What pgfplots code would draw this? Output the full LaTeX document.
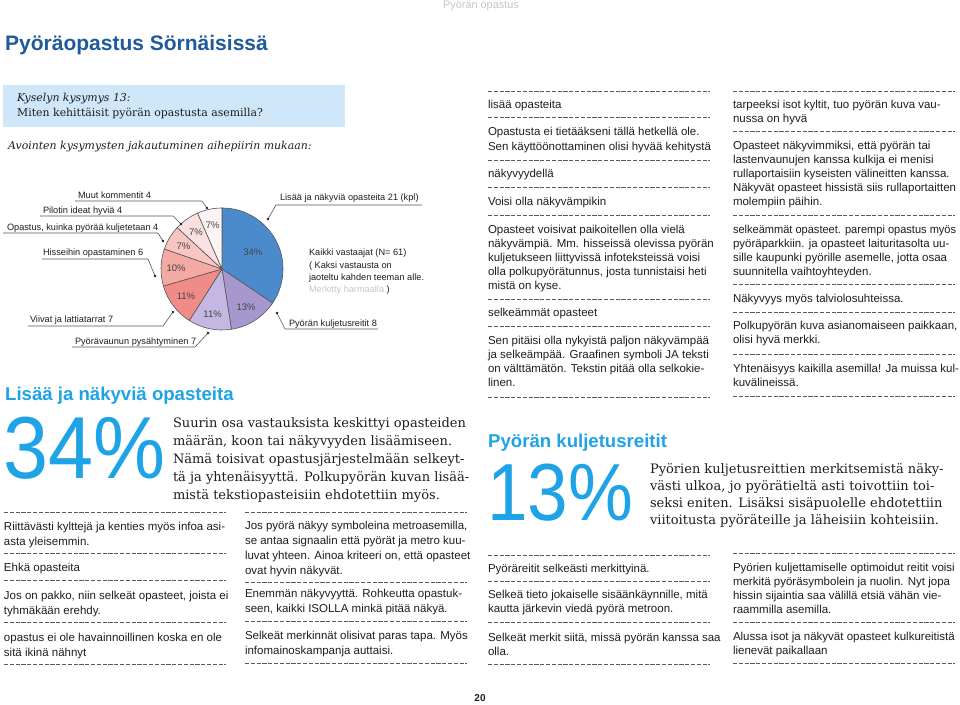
\documentclass[border=0pt]{standalone}
\usepackage{fontspec}
\setmainfont{Liberation Sans}
\newfontfamily\serif{DejaVu Serif}
\usepackage{pgfplots}
\pgfplotsset{compat=1.18}
\definecolor{txt}{HTML}{1E1E1E}
\definecolor{dashc}{HTML}{5A5A5A}
\definecolor{cyanh}{HTML}{1EA3E6}
\definecolor{titleb}{HTML}{1F5B9B}
\definecolor{boxb}{HTML}{CFE7F8}
\definecolor{hdr}{HTML}{C6C6C6}
\definecolor{edge}{HTML}{555555}
\definecolor{lab}{HTML}{444444}
\definecolor{s1}{HTML}{4B8BCB}
\definecolor{s2}{HTML}{A797CF}
\definecolor{s3}{HTML}{C4B8E2}
\definecolor{s4}{HTML}{F08C88}
\definecolor{s5}{HTML}{F4AAA4}
\definecolor{s6}{HTML}{F7C6C2}
\definecolor{s7}{HTML}{FAE0E0}
\definecolor{s8}{HTML}{FBF4F6}
\newcommand\bodyf{\fontsize{11.5}{14}\selectfont}
\newcommand\TB[3]{\node[anchor=base west,inner sep=0pt,outer sep=0pt,text=txt,font=\bodyf] at (#1,-#2) {#3};}
\newcommand\TD[2]{\draw[dashc,line width=0.7pt,dash pattern=on 4.2pt off 1.6pt] (#1,-#2) -- ++(222,0);}
\newcommand\TS[3]{\node[anchor=base west,inner sep=0pt,outer sep=0pt,text=txt,font={\serif\fontsize{13}{15}\selectfont}] at (#1,-#2) {#3};}
\newcommand\TP[3]{\node[anchor=base west,inner sep=0pt,outer sep=0pt,text=txt,font=\fontsize{9.2}{11}\selectfont] at (#1,-#2) {#3};}
\newcommand\slice[3]{%
  \filldraw[fill=#3,draw=edge,line width=0.6pt,line join=round] (axis cs:0,0) -- (axis cs:{61*cos(90-360/61*#1)},{61*sin(90-360/61*#1)}) arc[start angle={90-360/61*#1},end angle={90-360/61*#2},radius=61pt] -- cycle;}
\newcommand\plab[4]{\node[font=\fontsize{9.5}{10}\selectfont,text=lab,inner sep=0pt] at (axis cs:{#4*cos(90-180/61*(#1+#2))},{#4*sin(90-180/61*(#1+#2))}) {#3};}
\newcommand\lead[3]{%
  \draw[edge,line width=0.6pt] #1 -- #2 -- #3; \fill[txt] #3 circle[radius=1.3];}
\begin{document}
\begin{tikzpicture}[x=1pt,y=1pt]
\useasboundingbox (0,0) rectangle (960,-704);
\fill[white] (0,0) rectangle (960,-704);
% header
\node[anchor=base,inner sep=0pt,text=hdr,font=\fontsize{10.9}{12}\selectfont] at (481,-9) {Pyörän opastus};
\node[anchor=base west,inner sep=0pt,text=titleb,font=\bfseries\fontsize{21}{24}\selectfont] at (5,-50) {Pyöräopastus Sörnäisissä};
% question box
\fill[boxb] (3,-85) rectangle (345,-127);
\node[anchor=base west,inner sep=0pt,text=txt,font={\serif\itshape\fontsize{10.9}{12}\selectfont}] at (17,-101) {Kyselyn kysymys 13:};
\node[anchor=base west,inner sep=0pt,text=txt,font={\serif\fontsize{10.9}{12}\selectfont}] at (17,-116) {Miten kehittäisit pyörän opastusta asemilla?};
\node[anchor=base west,inner sep=0pt,text=txt,font={\serif\itshape\fontsize{10.9}{12}\selectfont}] at (8,-149) {Avointen kysymysten jakautuminen aihepiirin mukaan:};
% pie
\begin{axis}[at={(222pt,-269pt)},anchor=center,scale only axis,width=122pt,height=122pt,xmin=-61,xmax=61,ymin=-61,ymax=61,hide axis,clip=false]
\addplot[draw=none] coordinates {(0,0)};
\slice{0}{21}{s1}
\slice{21}{29}{s2}
\slice{29}{36}{s3}
\slice{36}{43}{s4}
\slice{43}{49}{s5}
\slice{49}{53}{s6}
\slice{53}{57}{s7}
\slice{57}{61}{s8}
\plab{0}{21}{34\%}{35}
\plab{21}{29}{13\%}{45}
\plab{29}{36}{11\%}{46}
\plab{36}{43}{11\%}{45}
\plab{43}{49}{10\%}{46}
\plab{49}{53}{7\%}{45}
\plab{53}{57}{7\%}{45}
\plab{57}{61}{7\%}{45}
\end{axis}
% pie labels
\TP{78}{198}{Muut kommentit 4}
\lead{(75,-201)}{(202,-201)}{(207,-208)}
\TP{43}{213}{Pilotin ideat hyviä 4}
\lead{(40,-216)}{(173,-216)}{(181,-224)}
\TP{7}{230}{Opastus, kuinka pyörää kuljetetaan 4}
\lead{(3,-233)}{(158,-233)}{(163,-241)}
\TP{43}{255}{Hisseihin opastaminen 6}
\lead{(42,-259)}{(148,-259)}{(155,-276)}
\TP{30}{322}{Viivat ja lattiatarrat 7}
\lead{(28,-326)}{(163,-326)}{(173,-312)}
\TP{75}{344}{Pyörävaunun pysähtyminen 7}
\lead{(72,-347)}{(195,-347)}{(208,-333)}
\TP{280}{200}{Lisää ja näkyviä opasteita 21 (kpl)}
\lead{(422,-205)}{(276,-205)}{(268,-219)}
\TP{289}{326}{Pyörän kuljetusreitit 8}
\lead{(378,-329)}{(285,-329)}{(277,-313)}
\TP{309}{255}{Kaikki vastaajat (N= 61)}
\TP{309}{268}{( Kaksi vastausta on}
\TP{309}{280}{jaoteltu kahden teeman alle.}
\TP{309}{292}{\textcolor{hdr}{Merkitty harmaalla.})}
% section 1
\node[anchor=base west,inner sep=0pt,text=cyanh,font=\bfseries\fontsize{18.6}{20}\selectfont] at (5,-400) {Lisää ja näkyviä opasteita};
\node[anchor=base west,inner sep=0pt,text=cyanh,font=\fontsize{88}{90}\selectfont] at (3,-478) {\scalebox{0.92}[1]{34\%}};
\TS{173}{427}{Suurin osa vastauksista keskittyi opasteiden}
\TS{173}{445}{määrän, koon tai näkyvyyden lisäämiseen.}
\TS{173}{463}{Nämä toisivat opastusjärjestelmään selkeyt-}
\TS{173}{481}{tä ja yhtenäisyyttä. Polkupyörän kuvan lisää-}
\TS{173}{499}{mistä tekstiopasteisiin ehdotettiin myös.}
% left column
\TD{4}{512}
\TB{4}{530}{Riittävästi kylttejä ja kenties myös infoa asi-}
\TB{4}{545}{asta yleisemmin.}
\TD{4}{553}
\TB{4}{571}{Ehkä opasteita}
\TD{4}{580}
\TB{4}{599}{Jos on pakko, niin selkeät opasteet, joista ei}
\TB{4}{614}{tyhmäkään erehdy.}
\TD{4}{622}
\TB{4}{641}{opastus ei ole havainnoillinen koska en ole}
\TB{4}{656}{sitä ikinä nähnyt}
\TD{4}{664}
% middle column
\TD{245}{512}
\TB{245}{529}{Jos pyörä näkyy symboleina metroasemilla,}
\TB{245}{544}{se antaa signaalin että pyörät ja metro kuu-}
\TB{245}{559}{luvat yhteen. Ainoa kriteeri on, että opasteet}
\TB{245}{574}{ovat hyvin näkyvät.}
\TD{245}{582}
\TB{245}{597}{Enemmän näkyvyyttä. Rohkeutta opastuk-}
\TB{245}{612}{seen, kaikki ISOLLA minkä pitää näkyä.}
\TD{245}{621}
\TB{245}{639}{Selkeät merkinnät olisivat paras tapa. Myös}
\TB{245}{654}{infomainoskampanja auttaisi.}
\TD{245}{663}
% right column 1 top
\TD{488}{91}
\TB{488}{108}{lisää opasteita}
\TD{488}{117}
\TB{488}{135}{Opastusta ei tietääkseni tällä hetkellä ole.}
\TB{488}{150}{Sen käyttöönottaminen olisi hyvää kehitystä}
\TD{488}{160}
\TB{488}{177}{näkyvyydellä}
\TD{488}{187}
\TB{488}{205}{Voisi olla näkyvämpikin}
\TD{488}{215}
\TB{488}{233}{Opasteet voisivat paikoitellen olla vielä}
\TB{488}{247}{näkyvämpiä. Mm. hisseissä olevissa pyörän}
\TB{488}{261}{kuljetukseen liittyvissä infoteksteissä voisi}
\TB{488}{275}{olla polkupyörätunnus, josta tunnistaisi heti}
\TB{488}{289}{mistä on kyse.}
\TD{488}{299}
\TB{488}{316}{selkeämmät opasteet}
\TD{488}{326}
\TB{488}{344}{Sen pitäisi olla nykyistä paljon näkyvämpää}
\TB{488}{358}{ja selkeämpää. Graafinen symboli JA teksti}
\TB{488}{372}{on välttämätön. Tekstin pitää olla selkokie-}
\TB{488}{386}{linen.}
\TD{488}{397}
% right column 2 top
\TD{733}{91}
\TB{733}{108}{tarpeeksi isot kyltit, tuo pyörän kuva vau-}
\TB{733}{122}{nussa on hyvä}
\TD{733}{131}
\TB{733}{149}{Opasteet näkyvimmiksi, että pyörän tai}
\TB{733}{163}{lastenvaunujen kanssa kulkija ei menisi}
\TB{733}{177}{rullaportaisiin kyseisten välineitten kanssa.}
\TB{733}{191}{Näkyvät opasteet hissistä siis rullaportaitten}
\TB{733}{205}{molempiin päihin.}
\TD{733}{215}
\TB{733}{233}{\scalebox{0.96}[1]{selkeämmät opasteet. parempi opastus myös}}
\TB{733}{247}{pyöräparkkiin. ja opasteet laituritasolta uu-}
\TB{733}{261}{sille kaupunki pyörille asemelle, jotta osaa}
\TB{733}{275}{suunnitella vaihtoyhteyden.}
\TD{733}{284}
\TB{733}{302}{Näkyvyys myös talviolosuhteissa.}
\TD{733}{312}
\TB{733}{329}{Polkupyörän kuva asianomaiseen paikkaan,}
\TB{733}{343}{olisi hyvä merkki.}
\TD{733}{354}
\TB{733}{372}{Yhtenäisyys kaikilla asemilla! Ja muissa kul-}
\TB{733}{386}{kuvälineissä.}
\TD{733}{396}
% section 2
\node[anchor=base west,inner sep=0pt,text=cyanh,font=\bfseries\fontsize{18.6}{20}\selectfont] at (488,-447) {Pyörän kuljetusreitit};
\node[anchor=base west,inner sep=0pt,text=cyanh,font=\fontsize{81}{84}\selectfont] at (487,-520) {\scalebox{0.9}[1]{13\%}};
\TS{650}{473}{Pyörien kuljetusreittien merkitsemistä näky-}
\TS{650}{490}{västi ulkoa, jo pyörätieltä asti toivottiin toi-}
\TS{650}{507}{seksi eniten. Lisäksi sisäpuolelle ehdotettiin}
\TS{650}{524}{viitoitusta pyöräteille ja läheisiin kohteisiin.}
% bottom right col 1
\TD{488}{555}
\TB{488}{572}{Pyöräreitit selkeästi merkittyinä.}
\TD{488}{581}
\TB{488}{598}{Selkeä tieto jokaiselle sisäänkäynnille, mitä}
\TB{488}{612}{kautta järkevin viedä pyörä metroon.}
\TD{488}{622}
\TB{488}{641}{Selkeät merkit siitä, missä pyörän kanssa saa}
\TB{488}{655}{olla.}
\TD{488}{664}
% bottom right col 2
\TD{733}{553}
\TB{733}{571}{Pyörien kuljettamiselle optimoidut reitit voisi}
\TB{733}{585}{merkitä pyöräsymbolein ja nuolin. Nyt jopa}
\TB{733}{599}{hissin sijaintia saa välillä etsiä vähän vie-}
\TB{733}{613}{raammilla asemilla.}
\TD{733}{622}
\TB{733}{640}{Alussa isot ja näkyvät opasteet kulkureitistä}
\TB{733}{654}{lienevät paikallaan}
\TD{733}{663}
% page number
\node[anchor=base,inner sep=0pt,text=txt,font=\bfseries\fontsize{10}{12}\selectfont] at (480,-701) {20};
\end{tikzpicture}
\end{document}
